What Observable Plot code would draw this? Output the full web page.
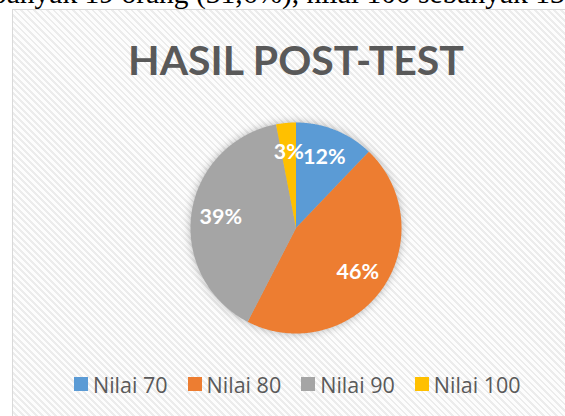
<!DOCTYPE html>
<html><head><meta charset="utf-8">
<script src="https://cdn.jsdelivr.net/npm/d3@7"></script>
<script src="https://cdn.jsdelivr.net/npm/@observablehq/plot@0.6"></script>
<style>
html,body{margin:0;padding:0;width:565px;height:416px;overflow:hidden;background:#fff;}
body{position:relative;}
#topline{position:absolute;left:-8px;top:-20.7px;font-family:"Liberation Serif";font-size:29.5px;line-height:1;white-space:nowrap;color:#000;}
#box{position:absolute;left:12px;top:9px;width:570px;height:420px;border:1px solid #d9d9d9;
  background:repeating-linear-gradient(45deg,#fdfdfd 0px,#fdfdfd 2.6px,#ececec 2.6px,#ececec 4.6px);}
#title{position:absolute;left:0;width:592px;text-align:center;top:38.6px;font-family:Lato;font-weight:700;font-size:41px;line-height:1;color:#595959;white-space:nowrap;}
#chart{position:absolute;left:0;top:0;}
#chart g[aria-label="line"]{filter:drop-shadow(0 0 4px rgba(0,0,0,0.28));}
#legend{position:absolute;left:74px;top:370px;height:28px;display:flex;align-items:center;}
#legend .lg-swatches{font-family:"Open Sans" !important;font-size:21.5px !important;color:#595959 !important;min-height:0 !important;margin:0 !important;display:flex;align-items:center;}
#legend .lg-swatch{font-size:21.5px !important;margin-right:20px !important;display:inline-flex;align-items:center;}
#legend .lg-swatch > svg{margin-right:5px !important;}
</style></head>
<body>
<div id="topline">banyak 19 orang (31,6%), nilai 100 sebanyak 13</div>
<div id="box"></div>
<div id="title">HASIL POST-TEST</div>
<div id="chart"></div>
<div id="legend"></div>
<script>
const categories = ["Nilai 70", "Nilai 80", "Nilai 90", "Nilai 100"];
const counts = [4, 15, 13, 1];
const percentLabels = ["12%", "46%", "39%", "3%"];
const colors = ["#5b9bd5", "#ed7d31", "#a5a5a5", "#ffc000"];

const rows = categories.map((c, i) => ({cat: c, count: counts[i], label: percentLabels[i]}));
const arcs = d3.pie().sort(null).value(d => d.count)(rows);

const pts = [];
const labelPts = [];
for (const a of arcs) {
  const cat = a.data.cat;
  pts.push({cat, x: 0, y: 0});
  const n = Math.max(2, Math.ceil((a.endAngle - a.startAngle) / (Math.PI / 360)));
  for (let i = 0; i <= n; i++) {
    const t = a.startAngle + (a.endAngle - a.startAngle) * i / n;
    pts.push({cat, x: Math.sin(t), y: Math.cos(t)});
  }
  const m = (a.startAngle + a.endAngle) / 2;
  labelPts.push({label: a.data.label, x: 0.72 * Math.sin(m), y: 0.72 * Math.cos(m)});
}

const chart = Plot.plot({
  width: 565, height: 416,
  marginLeft: 190, marginRight: 164, marginTop: 122, marginBottom: 83,
  x: {domain: [-1, 1], axis: null},
  y: {domain: [-1, 1], axis: null},
  color: {domain: categories, range: colors},
  style: {background: "transparent", overflow: "visible"},
  marks: [
    Plot.line(pts, {x: "x", y: "y", z: "cat", fill: "cat", stroke: "none"}),
    Plot.text(labelPts, {x: "x", y: "y", text: "label", fill: "white", fontSize: 21.5, fontWeight: "bold", fontFamily: "Lato"})
  ]
});
document.getElementById("chart").appendChild(chart);

const legend = Plot.legend({
  color: {domain: categories, range: colors},
  legend: "swatches",
  swatchSize: 14,
  className: "lg"
});
document.getElementById("legend").appendChild(legend);
</script>
</body></html>
